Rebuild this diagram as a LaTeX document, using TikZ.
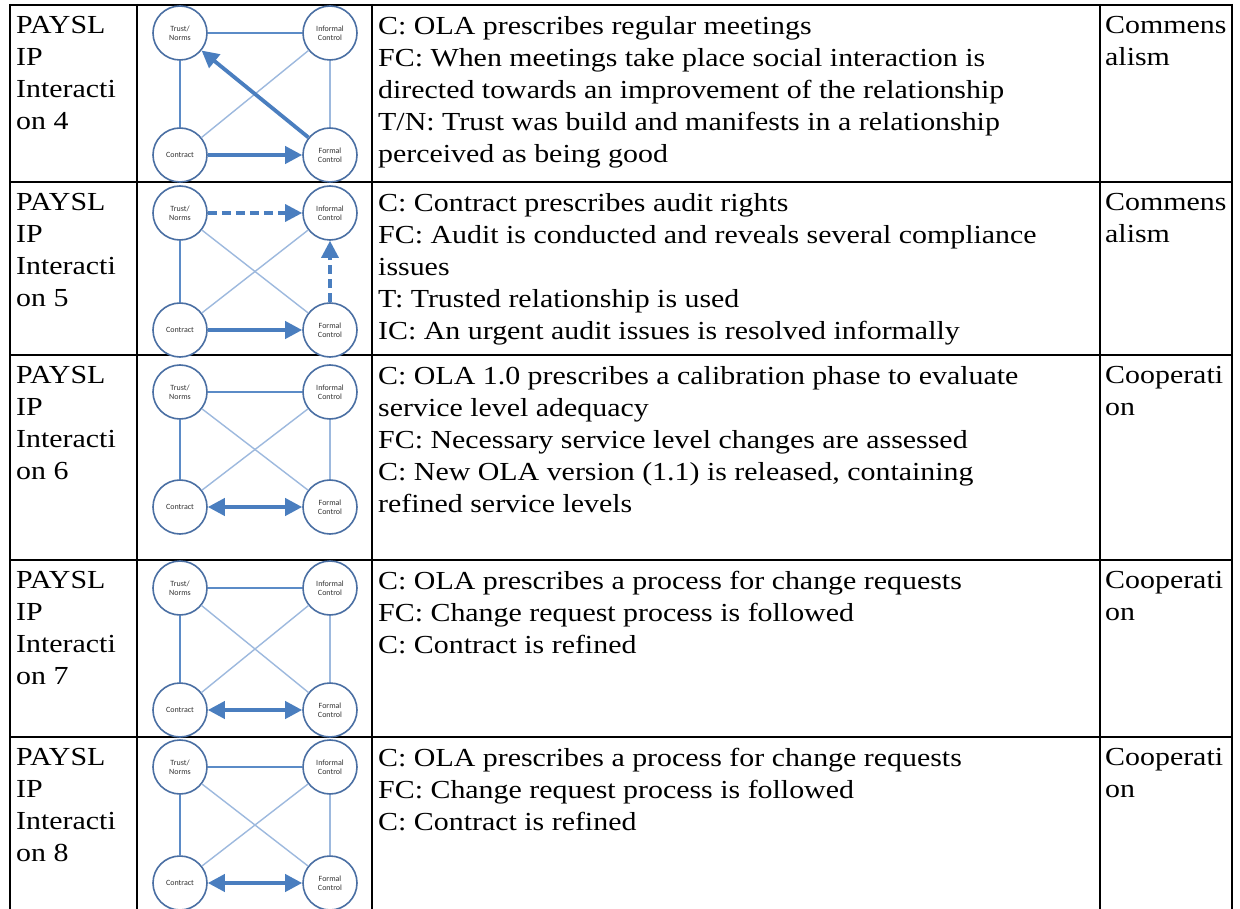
\documentclass[tikz,border=0pt]{standalone}
\usepackage{fontspec}
\setmainfont[FakeStretch=1.15]{Liberation Serif}
\newfontfamily\circfont{Carlito}
\usetikzlibrary{arrows.meta}
\definecolor{circblue}{HTML}{4A6FA3}
\definecolor{edgeblue}{HTML}{5B8BC7}
\definecolor{diagblue}{HTML}{9DB9DE}
\definecolor{arrblue}{HTML}{4A7EBF}
\definecolor{circtext}{HTML}{333333}
\newcommand\fourcircles[3]{%
  \node[circ] (tn#1) at (180,#2) {Trust/\\Norms};
  \node[circ] (ic#1) at (330,#2) {Informal\\Control};
  \node[circ] (c#1) at (180,#3) {Contract};
  \node[circ] (fc#1) at (330,#3) {Formal\\Control};
}
\begin{document}
\begin{tikzpicture}[x=1pt,y=-1pt,
  circ/.style={circle, draw=circblue, line width=1.6pt, fill=white, minimum size=54pt, inner sep=0pt, align=center, font=\circfont\fontsize{8}{9}\selectfont, text=circtext},
  side/.style={draw=edgeblue, line width=1.4pt},
  diag/.style={draw=diagblue, line width=1.4pt},
  thick arrow/.style={draw=arrblue, line width=3.8pt, -{Triangle[length=17pt,width=17pt]}},
  thick double/.style={draw=arrblue, line width=3.8pt, {Triangle[length=17pt,width=17pt]}-{Triangle[length=17pt,width=17pt]}},
  dashed arrow/.style={draw=arrblue, line width=3.2pt, dash pattern=on 9pt off 5pt, -{Triangle[length=17pt,width=17pt]}},
  cell/.style={anchor=north west, inner sep=0pt, align=left, font=\fontsize{26}{32}\selectfont},
  grid/.style={draw=black, line width=2pt}
]
\useasboundingbox (0,0) rectangle (1240,909);
\fill[white] (0,0) rectangle (1240,909);

% table grid
\draw[grid] (10,5) -- (1232,5);
\draw[grid] (10,182) -- (1232,182);
\draw[grid] (10,355) -- (1232,355);
\draw[grid] (10,560) -- (1232,560);
\draw[grid] (10,737) -- (1232,737);
\draw[grid] (10,4) -- (10,909);
\draw[grid] (137,4) -- (137,909);
\draw[grid] (372,4) -- (372,909);
\draw[grid] (1100,4) -- (1100,909);
\draw[grid] (1232,4) -- (1232,909);

% row 1
\node[cell] (a1) at (16,16) {PAYSL\\IP\\Interacti\\on 4};
\node[cell] (t1) at (378,16) {C: OLA prescribes regular meetings\\FC: When meetings take place social interaction is\\directed towards an improvement of the relationship\\T/N: Trust was build and manifests in a relationship\\perceived as being good};
\node[cell] (r1) at (1105,16) {Commens\\alism};
\fourcircles{1}{33}{155}
\draw[side] (tn1) -- (ic1);
\draw[side] (tn1) -- (c1);
\draw[diag] (ic1) -- (fc1);
\draw[diag] (c1) -- (ic1);
\draw[thick arrow] (fc1) -- (tn1);
\draw[thick arrow] (c1) -- (fc1);

% row 2
\node[cell] (a2) at (16,193) {PAYSL\\IP\\Interacti\\on 5};
\node[cell] (t2) at (378,193) {C: Contract prescribes audit rights\\FC: Audit is conducted and reveals several compliance\\issues\\T: Trusted relationship is used\\IC: An urgent audit issues is resolved informally};
\node[cell] (r2) at (1105,193) {Commens\\alism};
\fourcircles{2}{213}{330}
\draw[side] (tn2) -- (c2);
\draw[diag] (tn2) -- (fc2);
\draw[diag] (c2) -- (ic2);
\draw[dashed arrow] (tn2) -- (ic2);
\draw[dashed arrow] (fc2) -- (ic2);
\draw[thick arrow] (c2) -- (fc2);

% row 3
\node[cell] (a3) at (16,366) {PAYSL\\IP\\Interacti\\on 6};
\node[cell] (t3) at (378,366) {C: OLA 1.0 prescribes a calibration phase to evaluate\\service level adequacy\\FC: Necessary service level changes are assessed\\C: New OLA version (1.1) is released, containing\\refined service levels};
\node[cell] (r3) at (1105,366) {Cooperati\\on};
\fourcircles{3}{392}{507}
\draw[side] (tn3) -- (ic3);
\draw[side] (tn3) -- (c3);
\draw[diag] (ic3) -- (fc3);
\draw[diag] (tn3) -- (fc3);
\draw[diag] (c3) -- (ic3);
\draw[thick double] (c3) -- (fc3);

% row 4
\node[cell] (a4) at (16,571) {PAYSL\\IP\\Interacti\\on 7};
\node[cell] (t4) at (378,571) {C: OLA prescribes a process for change requests\\FC: Change request process is followed\\C: Contract is refined};
\node[cell] (r4) at (1105,571) {Cooperati\\on};
\fourcircles{4}{588}{710}
\draw[side] (tn4) -- (ic4);
\draw[side] (tn4) -- (c4);
\draw[diag] (ic4) -- (fc4);
\draw[diag] (tn4) -- (fc4);
\draw[diag] (c4) -- (ic4);
\draw[thick double] (c4) -- (fc4);

% row 5
\node[cell] (a5) at (16,748) {PAYSL\\IP\\Interacti\\on 8};
\node[cell] (t5) at (378,748) {C: OLA prescribes a process for change requests\\FC: Change request process is followed\\C: Contract is refined};
\node[cell] (r5) at (1105,748) {Cooperati\\on};
\fourcircles{5}{767}{883}
\draw[side] (tn5) -- (ic5);
\draw[side] (tn5) -- (c5);
\draw[diag] (ic5) -- (fc5);
\draw[diag] (tn5) -- (fc5);
\draw[diag] (c5) -- (ic5);
\draw[thick double] (c5) -- (fc5);
\end{tikzpicture}
\end{document}
